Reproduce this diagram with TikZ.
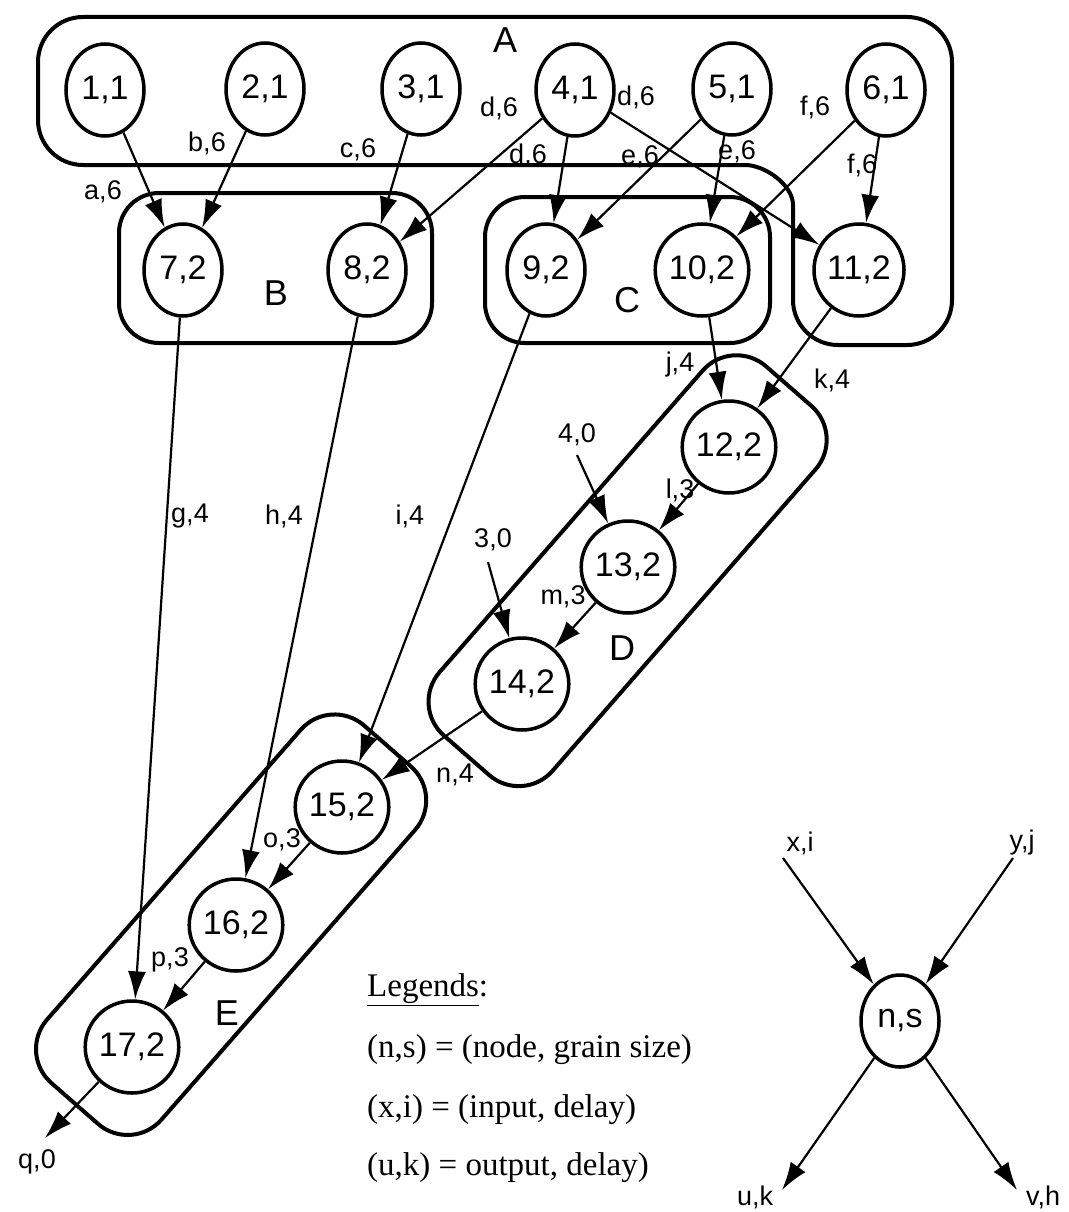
\documentclass[tikz,border=0pt]{standalone}
\usepackage{fontspec}
\setmainfont{Liberation Serif}
\setsansfont{Liberation Sans}
\usepackage{tikz}
\usetikzlibrary{arrows.meta,shapes.geometric}

\begin{document}
\begin{tikzpicture}[x=1pt,y=-1pt,
	task/.style={ellipse,draw,line width=3.5pt,fill=white,minimum width=78pt,minimum height=92pt,inner sep=0pt,font=\sffamily\fontsize{34}{34}\selectfont},
	grp/.style={draw,line width=4pt,rounded corners=45pt},
	dep/.style={-{Latex[length=28pt,width=18pt]},line width=2.2pt},
	lbl/.style={font=\sffamily\fontsize{27}{27}\selectfont,inner sep=1pt},
	glbl/.style={font=\sffamily\fontsize{36}{36}\selectfont,inner sep=0pt},
	legend/.style={font=\rmfamily\fontsize{33}{33}\selectfont,anchor=west,inner sep=0pt},
	]
	\useasboundingbox (0,0) rectangle (1068,1212);
	
	% groups
	\draw[grp] (793,250) .. controls (793,185) and (765,165) .. (700,165)
	-- (38,165) -- (38,17) -- (952,17) -- (952,345) -- (793,345) -- cycle;
	\draw[grp,rounded corners=40pt] (119,193) rectangle (432,343);
	\draw[grp,rounded corners=40pt] (485,197) rectangle (770,343);
	\node[grp,rotate=48.9,minimum width=490pt,minimum height=150pt] (D) at (627.6,570.7) {};
	\node[grp,rotate=48.8,minimum width=475pt,minimum height=152pt] (E) at (231.1,924.7) {};
	\node[glbl] (gA) at (505,40) {A};
	\node[glbl] (gB) at (276,293) {B};
	\node[glbl] (gC) at (627,300) {C};
	\node[glbl] (gD) at (622,648) {D};
	\node[glbl] (gE) at (227,1013) {E};
	
	% tasks
	\node[task] (n1) at (105,90) {1,1};
	\node[task] (n2) at (265,89) {2,1};
	\node[task] (n3) at (421,89) {3,1};
	\node[task] (n4) at (575,90) {4,1};
	\node[task] (n5) at (732,89) {5,1};
	\node[task] (n6) at (886,90) {6,1};
	\node[task] (n7) at (183,270) {7,2};
	\node[task] (n8) at (367,270) {8,2};
	\node[task] (n9) at (546,270) {9,2};
	\node[task] (n10) at (702,270) {10,2};
	\node[task] (n11) at (859,270) {11,2};
	\node[task] (n12) at (729,447) {12,2};
	\node[task] (n13) at (628,567) {13,2};
	\node[task] (n14) at (522,684) {14,2};
	\node[task] (n15) at (342,807) {15,2};
	\node[task] (n16) at (236,925) {16,2};
	\node[task] (n17) at (132,1047) {17,2};
	
	% outside inputs and output
	\coordinate (in13) at (577,455);
	\coordinate (in14) at (488,562);
	\coordinate (out17) at (45,1138);
	
	% dependences
	\draw[dep] (n1) -- (n7);
	\draw[dep] (n2) -- (n7);
	\draw[dep] (n3) -- (n8);
	\draw[dep] (n4) -- (n8);
	\draw[dep] (n4) -- (n9);
	\draw[dep] (n4) -- (n11);
	\draw[dep] (n5) -- (n9);
	\draw[dep] (n5) -- (n10);
	\draw[dep] (n6) -- (n10);
	\draw[dep] (n6) -- (n11);
	\draw[dep] (n7) -- (n17);
	\draw[dep] (n8) -- (n16);
	\draw[dep] (n9) -- (n15);
	\draw[dep] (n10) -- (n12);
	\draw[dep] (n11) -- (n12);
	\draw[dep] (n12) -- (n13);
	\draw[dep] (n13) -- (n14);
	\draw[dep] (n14) -- (n15);
	\draw[dep] (n15) -- (n16);
	\draw[dep] (n16) -- (n17);
	\draw[dep] (in13) -- (n13);
	\draw[dep] (in14) -- (n14);
	\draw[dep] (n17) -- (out17);
	
	% (message, delay) labels
	\node[lbl] (la) at (103,192) {a,6};
	\node[lbl] (lb) at (207,143) {b,6};
	\node[lbl] (lc) at (358,150) {c,6};
	\node[lbl] (ld1) at (499,108) {d,6};
	\node[lbl] (ld2) at (528,155) {d,6};
	\node[lbl] (ld3) at (636,97) {d,6};
	\node[lbl] (le1) at (640,157) {e,6};
	\node[lbl] (le2) at (737,152) {e,6};
	\node[lbl] (lf1) at (815,107) {f,6};
	\node[lbl] (lf2) at (862,165) {f,6};
	\node[lbl] (lg) at (190,516) {g,4};
	\node[lbl] (lh) at (284,516) {h,4};
	\node[lbl] (li) at (410,516) {i,4};
	\node[lbl] (lj) at (680,365) {j,4};
	\node[lbl] (lk) at (832,380) {k,4};
	\node[lbl] (ll) at (680,490) {l,3};
	\node[lbl] (lm) at (563,597) {m,3};
	\node[lbl] (ln) at (455,775) {n,4};
	\node[lbl] (lo) at (282,840) {o,3};
	\node[lbl] (lp) at (170,960) {p,3};
	\node[lbl] (lq) at (37,1162) {q,0};
	\node[lbl] (l40) at (577,435) {4,0};
	\node[lbl] (l30) at (493,540) {3,0};
	
	% legend
	\node[legend] (leg0) at (367,990) {\underline{Legends}:};
	\node[legend] (leg1) at (367,1050) {(n,s) = (node, grain size)};
	\node[legend] (leg2) at (367,1110) {(x,i) = (input, delay)};
	\node[legend] (leg3) at (367,1168) {(u,k) = output, delay)};
	
	\node[task] (ns) at (900,1021) {n,s};
	\coordinate (xi) at (783,858);
	\coordinate (yj) at (1013,858);
	\coordinate (uk) at (782,1190);
	\coordinate (vh) at (1017,1190);
	\draw[dep] (xi) -- (ns);
	\draw[dep] (yj) -- (ns);
	\draw[dep] (ns) -- (uk);
	\draw[dep] (ns) -- (vh);
	\node[lbl] (lxi) at (800,843) {x,i};
	\node[lbl] (lyj) at (1022,843) {y,j};
	\node[lbl] (luk) at (755,1197) {u,k};
	\node[lbl] (lvh) at (1043,1197) {v,h};
\end{tikzpicture}
\end{document}
